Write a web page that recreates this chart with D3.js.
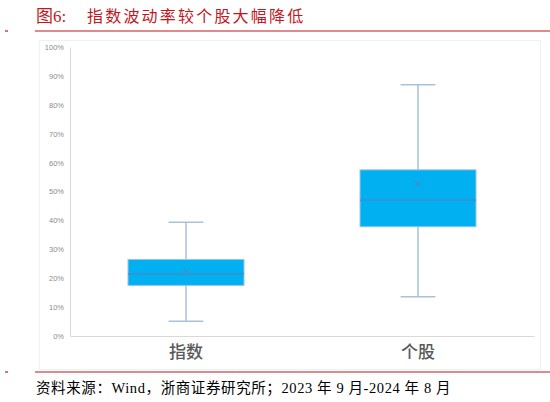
<!DOCTYPE html>
<html>
<head>
<meta charset="utf-8">
<script src="https://cdn.jsdelivr.net/npm/d3@7"></script>
<style>
  body { margin: 0; background: #fff; }
  svg { display: block; }
</style>
</head>
<body>
<svg id="chart" width="550" height="402"></svg>
<script>
// data (fractions of 1)
const categories = ["指数", "个股"];
const whiskerLow = [0.051, 0.136];
const q1 = [0.175, 0.378];
const medians = [0.215, 0.470];
const q3 = [0.265, 0.575];
const whiskerHigh = [0.394, 0.869];
const means = [0.222, 0.526];
const yTicks = [0, 0.1, 0.2, 0.3, 0.4, 0.5, 0.6, 0.7, 0.8, 0.9, 1];

const svg = d3.select("#chart");
const red = "#c4161c";
const cjk = "'Noto Sans CJK SC', sans-serif";

const boxes = categories.map((c, i) => ({
  cat: c,
  lo: whiskerLow[i],
  q1: q1[i],
  med: medians[i],
  q3: q3[i],
  hi: whiskerHigh[i],
  mean: means[i],
}));

// title
svg.append("text")
  .attr("x", 36).attr("y", 22)
  .attr("fill", red)
  .style("font-family", "'Liberation Serif', 'Noto Sans CJK SC', serif")
  .style("font-size", "17px")
  .text("图6:");
svg.append("text")
  .attr("x", 87).attr("y", 22)
  .attr("fill", red)
  .style("font-family", cjk)
  .style("font-size", "16px")
  .style("letter-spacing", "2.2px")
  .text("指数波动率较个股大幅降低");

svg.append("line")
  .attr("x1", 35).attr("x2", 550)
  .attr("y1", 31).attr("y2", 31)
  .attr("stroke", red).attr("stroke-width", 1.2);
svg.append("line")
  .attr("x1", 35).attr("x2", 550)
  .attr("y1", 372).attr("y2", 372)
  .attr("stroke", red).attr("stroke-width", 1.2);
[31, 372].forEach((y) => {
  svg.append("line")
    .attr("x1", 5).attr("x2", 8)
    .attr("y1", y).attr("y2", y)
    .attr("stroke", red).attr("stroke-width", 1.2);
});

// chart area border (very faint)
svg.append("rect")
  .attr("x", 39.5).attr("y", 40.5)
  .attr("width", 501).attr("height", 329)
  .attr("fill", "none")
  .attr("stroke", "#f0f0f0");

const yScale = d3.scaleLinear().domain([0, 1]).range([336, 47]);
const xScale = d3.scaleBand().domain(categories).range([70, 534]);
const bw = xScale.bandwidth();
const boxW = bw * 0.5;
const capW = bw * 0.15;

// y axis
const yAxis = d3.axisLeft(yScale)
  .tickValues(yTicks)
  .tickFormat(d3.format(".0%"))
  .tickSize(0)
  .tickPadding(6);
const gy = svg.append("g")
  .attr("transform", "translate(70, 0)")
  .call(yAxis);
gy.select(".domain").attr("stroke", "#d9d9d9");
gy.selectAll("text")
  .attr("fill", "#8c8c8c")
  .style("font-family", "'Liberation Sans', Arial, sans-serif")
  .style("font-size", "7.5px");

// x axis
const xAxis = d3.axisBottom(xScale).tickSize(0).tickPadding(10);
const gx = svg.append("g")
  .attr("transform", "translate(0, 336)")
  .call(xAxis);
gx.select(".domain").attr("stroke", "#d9d9d9");
gx.selectAll("text")
  .attr("fill", "#595959")
  .style("font-family", cjk)
  .style("font-size", "17px")
  .style("font-weight", "500");

const g = svg.selectAll(".box")
  .data(boxes)
  .enter()
  .append("g")
  .attr("class", "box");

const cx = (d) => xScale(d.cat) + bw / 2;
const whiskerColor = "#a9c1da";

// whiskers
g.append("line")
  .attr("x1", cx).attr("x2", cx)
  .attr("y1", (d) => yScale(d.hi)).attr("y2", (d) => yScale(d.lo))
  .attr("stroke", whiskerColor).attr("stroke-width", 1.5);
g.append("line")
  .attr("x1", (d) => cx(d) - capW / 2).attr("x2", (d) => cx(d) + capW / 2)
  .attr("y1", (d) => yScale(d.hi)).attr("y2", (d) => yScale(d.hi))
  .attr("stroke", whiskerColor).attr("stroke-width", 1.5);
g.append("line")
  .attr("x1", (d) => cx(d) - capW / 2).attr("x2", (d) => cx(d) + capW / 2)
  .attr("y1", (d) => yScale(d.lo)).attr("y2", (d) => yScale(d.lo))
  .attr("stroke", whiskerColor).attr("stroke-width", 1.5);

// box
g.append("rect")
  .attr("x", (d) => cx(d) - boxW / 2)
  .attr("width", boxW)
  .attr("y", (d) => yScale(d.q3))
  .attr("height", (d) => yScale(d.q1) - yScale(d.q3))
  .attr("fill", "#00b0f0")
  .attr("stroke", "#9dc3e6")
  .attr("stroke-width", 1);

// median
g.append("line")
  .attr("x1", (d) => cx(d) - boxW / 2).attr("x2", (d) => cx(d) + boxW / 2)
  .attr("y1", (d) => yScale(d.med)).attr("y2", (d) => yScale(d.med))
  .attr("stroke", "#4a86c5").attr("stroke-width", 1.2);

// mean marker
g.append("path")
  .attr("d", (d) => {
    const x = cx(d), y = yScale(d.mean), s = 3.5;
    return `M${x - s},${y - s}L${x + s},${y + s}M${x - s},${y + s}L${x + s},${y - s}`;
  })
  .attr("stroke", "#5b85b5").attr("stroke-width", 1);

// source note
svg.append("text")
  .attr("x", 36).attr("y", 393)
  .attr("fill", "#000")
  .style("font-family", "'Liberation Serif', 'Noto Sans CJK SC', serif")
  .style("font-size", "14.5px")
  .style("letter-spacing", "0.6px")
  .text("资料来源：Wind，浙商证券研究所；2023 年 9 月-2024 年 8 月");
</script>
</body>
</html>
